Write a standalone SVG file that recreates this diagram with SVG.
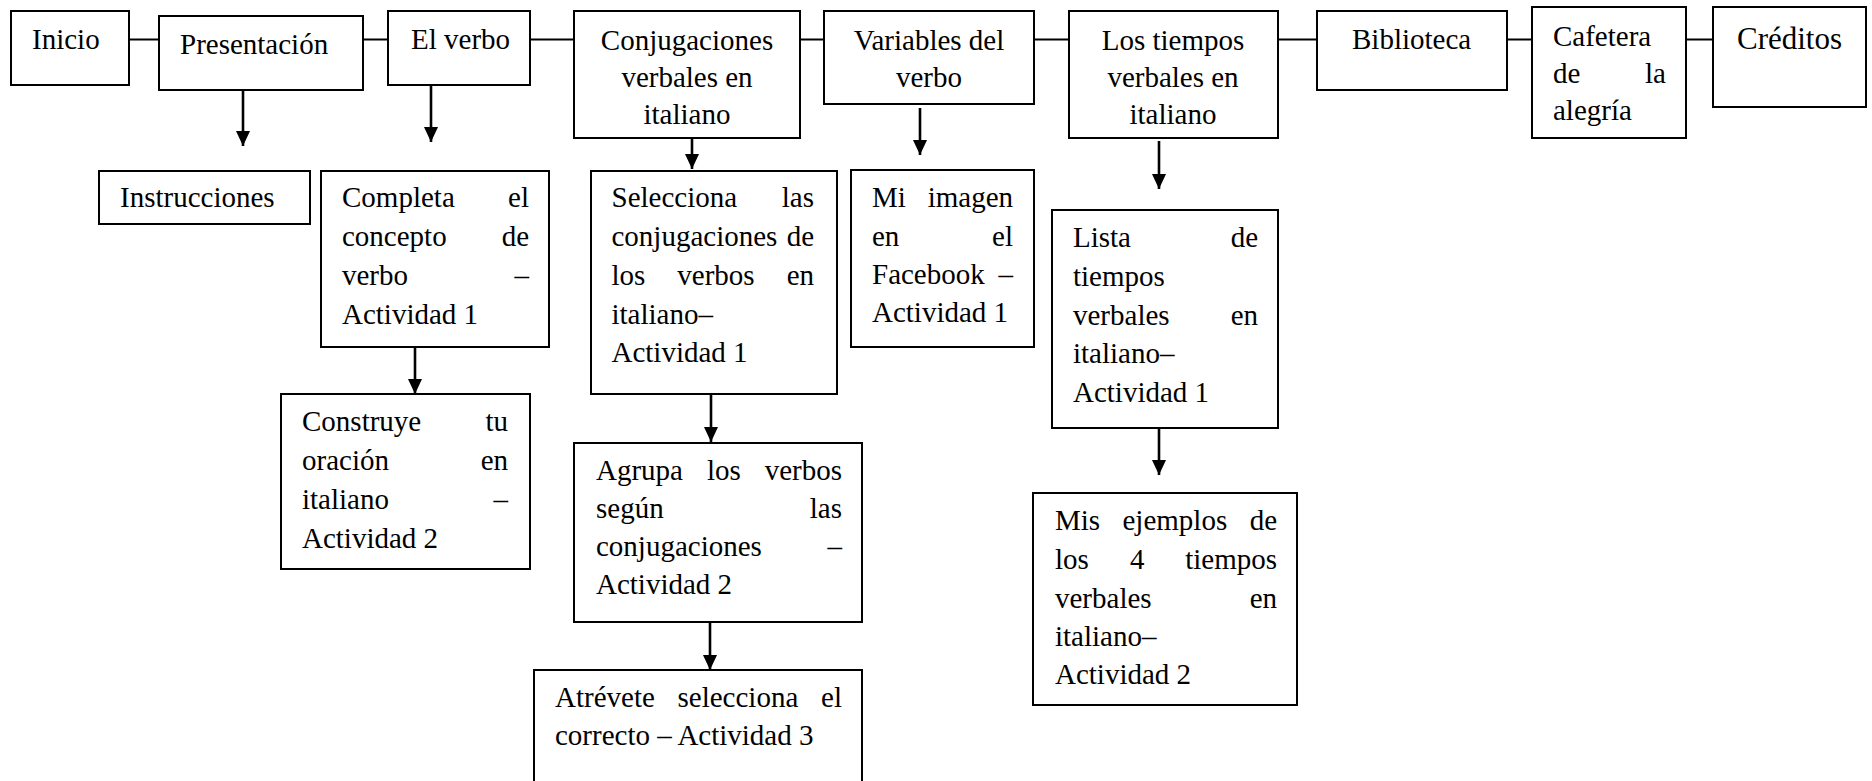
<svg xmlns="http://www.w3.org/2000/svg" width="1872" height="781" viewBox="0 0 1872 781">
<style>
  .box { fill: #ffffff; stroke: #000000; stroke-width: 2; }
  .conn { stroke: #000000; stroke-width: 2; fill: none; }
  .arr { stroke: #000000; stroke-width: 2.6; fill: none; marker-end: url(#ah); }
  text { font-family: "Liberation Serif", "Times New Roman", serif; font-size: 29px; fill: #000000; }
  .mid { text-anchor: middle; }
  .end { text-anchor: end; }
  .big { font-size: 31px; }
</style>
<defs>
  <marker id="ah" markerUnits="userSpaceOnUse" markerWidth="16" markerHeight="15" refX="15" refY="7" orient="auto">
    <path d="M0,0 L15,7 L0,14 z" fill="#000000"/>
  </marker>
</defs>
<rect x="0" y="0" width="1872" height="781" fill="#ffffff"/>

<g id="connectors">
  <line class="conn" x1="129" y1="39.5" x2="159" y2="39.5"/>
  <line class="conn" x1="363" y1="39.5" x2="388" y2="39.5"/>
  <line class="conn" x1="530" y1="39.5" x2="574" y2="39.5"/>
  <line class="conn" x1="800" y1="39.5" x2="824" y2="39.5"/>
  <line class="conn" x1="1034" y1="39.5" x2="1069" y2="39.5"/>
  <line class="conn" x1="1278" y1="39.5" x2="1317" y2="39.5"/>
  <line class="conn" x1="1507" y1="39.5" x2="1532" y2="39.5"/>
  <line class="conn" x1="1686" y1="39.5" x2="1713" y2="39.5"/>
  <line class="arr" x1="243" y1="90" x2="243" y2="146"/>
  <line class="arr" x1="431" y1="85" x2="431" y2="142"/>
  <line class="arr" x1="692" y1="138" x2="692" y2="169"/>
  <line class="arr" x1="920" y1="108" x2="920" y2="155"/>
  <line class="arr" x1="1159" y1="141" x2="1159" y2="189"/>
  <line class="arr" x1="415" y1="347" x2="415" y2="394"/>
  <line class="arr" x1="711" y1="394" x2="711" y2="442"/>
  <line class="arr" x1="710" y1="622" x2="710" y2="670"/>
  <line class="arr" x1="1159" y1="428" x2="1159" y2="475"/>
</g>

<g id="inicio">
  <rect class="box" x="11" y="11" width="118" height="74"/>
  <text x="32" y="49">Inicio</text>
</g>
<g id="presentacion">
  <rect class="box" x="159" y="16" width="204" height="74"/>
  <text x="180" y="54">Presentación</text>
</g>
<g id="el-verbo">
  <rect class="box" x="388" y="11" width="142" height="74"/>
  <text x="411" y="49">El verbo</text>
</g>
<g id="conjugaciones">
  <rect class="box" x="574" y="11" width="226" height="127"/>
  <text class="mid" x="687" y="50">Conjugaciones</text>
  <text class="mid" x="687" y="87">verbales en</text>
  <text class="mid" x="687" y="124">italiano</text>
</g>
<g id="variables">
  <rect class="box" x="824" y="11" width="210" height="93"/>
  <text class="mid" x="929" y="50">Variables del</text>
  <text class="mid" x="929" y="87">verbo</text>
</g>
<g id="tiempos">
  <rect class="box" x="1069" y="11" width="209" height="127"/>
  <text class="mid" x="1173" y="50">Los tiempos</text>
  <text class="mid" x="1173" y="87">verbales en</text>
  <text class="mid" x="1173" y="124">italiano</text>
</g>
<g id="biblioteca">
  <rect class="box" x="1317" y="11" width="190" height="79"/>
  <text x="1352" y="49">Biblioteca</text>
</g>
<g id="cafetera">
  <rect class="box" x="1532" y="7" width="154" height="131"/>
  <text x="1553" y="46">Cafetera</text>
  <text x="1553" y="83">de</text>
  <text class="end" x="1666" y="83">la</text>
  <text x="1553" y="120">alegría</text>
</g>
<g id="creditos">
  <rect class="box" x="1713" y="7" width="153" height="100"/>
  <text class="big" x="1737" y="49">Créditos</text>
</g>

<g id="instrucciones">
  <rect class="box" x="99" y="171" width="211" height="53"/>
  <text x="120" y="207">Instrucciones</text>
</g>
<g id="completa">
  <rect class="box" x="321" y="171" width="228" height="176"/>
  <text x="342" y="207">Completa</text>
  <text class="end" x="529" y="207">el</text>
  <text x="342" y="246">concepto</text>
  <text class="end" x="529" y="246">de</text>
  <text x="342" y="285">verbo</text>
  <text class="end" x="529" y="285">–</text>
  <text x="342" y="324">Actividad 1</text>
</g>
<g id="construye">
  <rect class="box" x="281" y="394" width="249" height="175"/>
  <text x="302" y="431">Construye</text>
  <text class="end" x="508" y="431">tu</text>
  <text x="302" y="470">oración</text>
  <text class="end" x="508" y="470">en</text>
  <text x="302" y="509">italiano</text>
  <text class="end" x="508" y="509">–</text>
  <text x="302" y="548">Actividad 2</text>
</g>
<g id="selecciona">
  <rect class="box" x="591" y="171" width="246" height="223"/>
  <text x="611.5" y="207">Selecciona</text>
  <text class="end" x="814" y="207">las</text>
  <text x="611.5" y="246">conjugaciones</text>
  <text class="end" x="814" y="246">de</text>
  <text x="611.5" y="285">los</text>
  <text x="677.3" y="285">verbos</text>
  <text class="end" x="814" y="285">en</text>
  <text x="611.5" y="324">italiano–</text>
  <text x="611.5" y="362">Actividad 1</text>
</g>
<g id="agrupa">
  <rect class="box" x="574" y="443" width="288" height="179"/>
  <text x="596" y="480">Agrupa</text>
  <text x="707" y="480">los</text>
  <text class="end" x="842" y="480">verbos</text>
  <text x="596" y="518">según</text>
  <text class="end" x="842" y="518">las</text>
  <text x="596" y="556">conjugaciones</text>
  <text class="end" x="842" y="556">–</text>
  <text x="596" y="594">Actividad 2</text>
</g>
<g id="atrevete">
  <rect class="box" x="534" y="670" width="328" height="130"/>
  <text x="555" y="707">Atrévete</text>
  <text x="677.5" y="707">selecciona</text>
  <text class="end" x="842" y="707">el</text>
  <text x="555" y="745">correcto – Actividad 3</text>
</g>
<g id="mi-imagen">
  <rect class="box" x="851" y="170" width="183" height="177"/>
  <text x="872" y="207">Mi</text>
  <text class="end" x="1013" y="207">imagen</text>
  <text x="872" y="245.5">en</text>
  <text class="end" x="1013" y="245.5">el</text>
  <text x="872" y="284">Facebook</text>
  <text class="end" x="1013" y="284">–</text>
  <text x="872" y="322">Actividad 1</text>
</g>
<g id="lista">
  <rect class="box" x="1052" y="210" width="226" height="218"/>
  <text x="1073" y="247">Lista</text>
  <text class="end" x="1258" y="247">de</text>
  <text x="1073" y="286">tiempos</text>
  <text x="1073" y="325">verbales</text>
  <text class="end" x="1258" y="325">en</text>
  <text x="1073" y="363">italiano–</text>
  <text x="1073" y="402">Actividad 1</text>
</g>
<g id="mis-ejemplos">
  <rect class="box" x="1033" y="493" width="264" height="212"/>
  <text x="1055" y="530">Mis</text>
  <text x="1122.5" y="530">ejemplos</text>
  <text class="end" x="1277" y="530">de</text>
  <text x="1055" y="569">los</text>
  <text x="1130" y="569">4</text>
  <text class="end" x="1277" y="569">tiempos</text>
  <text x="1055" y="608">verbales</text>
  <text class="end" x="1277" y="608">en</text>
  <text x="1055" y="646">italiano–</text>
  <text x="1055" y="684">Actividad 2</text>
</g>
</svg>
